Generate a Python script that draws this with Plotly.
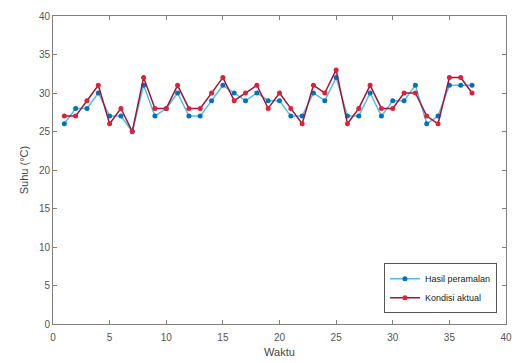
import plotly.graph_objects as go

weeks = list(range(1, 38))
forecast = [26, 28, 28, 30, 27, 27, 25, 31, 27, 28, 30, 27, 27, 29, 31, 30, 29, 30, 29, 29,
            27, 27, 30, 29, 32, 27, 27, 30, 27, 29, 29, 31, 26, 27, 31, 31, 31]
actual = [27, 27, 29, 31, 26, 28, 25, 32, 28, 28, 31, 28, 28, 30, 32, 29, 30, 31, 28, 30,
          28, 26, 31, 30, 33, 26, 28, 31, 28, 28, 30, 30, 27, 26, 32, 32, 30]
series_names = ["Hasil peramalan", "Kondisi aktual"]
x_ticks = [0, 5, 10, 15, 20, 25, 30, 35, 40]
y_ticks = [0, 5, 10, 15, 20, 25, 30, 35, 40]

fig = go.Figure()
fig.add_trace(go.Scatter(
    x=weeks, y=forecast, name=series_names[0], mode="lines+markers",
    line=dict(color="#4DBEEE", width=1.5),
    marker=dict(color="#0072BD", size=5, symbol="circle")))
fig.add_trace(go.Scatter(
    x=weeks, y=actual, name=series_names[1], mode="lines+markers",
    line=dict(color="#A2142F", width=1.5),
    marker=dict(color="#E0203A", size=5, symbol="circle")))

axis_common = dict(
    showgrid=False, zeroline=False, showline=True, linecolor="#808080", linewidth=1,
    mirror="ticks", ticks="inside", ticklen=4, tickcolor="#808080",
    tickfont=dict(family="Liberation Sans, Arial", size=10, color="#555555"),
)
fig.update_xaxes(range=[0, 40], tickvals=x_ticks, ticklabelstandoff=4,
                 title=dict(text="Waktu", font=dict(family="Liberation Sans, Arial", size=11, color="#444444"), standoff=6),
                 **axis_common)
fig.update_yaxes(range=[0, 40], tickvals=y_ticks,
                 title=dict(text="Suhu (°C)", font=dict(family="Liberation Sans, Arial", size=11, color="#444444"), standoff=8),
                 **axis_common)

fig.update_layout(
    width=518, height=363,
    margin=dict(l=53, r=6, t=16, b=38),
    paper_bgcolor="white", plot_bgcolor="white",
    showlegend=True,
    legend=dict(x=0.98, y=0.035, xanchor="right", yanchor="bottom",
                bgcolor="white", bordercolor="#555555", borderwidth=1,
                font=dict(family="Liberation Sans, Arial", size=9, color="#222222"),
                tracegroupgap=0, itemwidth=30),
)

fig.write_html("out.html")
